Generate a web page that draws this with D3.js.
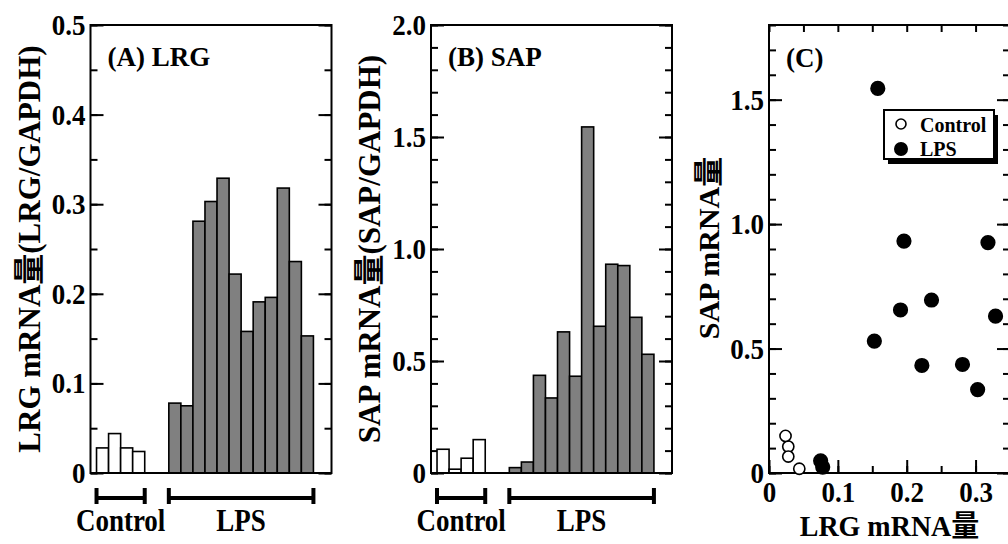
<!DOCTYPE html>
<html>
<head>
<meta charset="utf-8">
<script src="https://cdn.jsdelivr.net/npm/d3@7"></script>
<style>
  body { margin: 0; background: #fff; }
  svg { font-family: "Liberation Serif", "Times New Roman", "Noto Sans CJK JP", serif; font-weight: bold; }
</style>
</head>
<body>
<svg></svg>
<script>
// values (sample order is the same in every panel)
var controlLRG = [0.028, 0.044, 0.028, 0.024];
var lpsLRG = [0.078, 0.075, 0.281, 0.303, 0.329, 0.222, 0.158, 0.191, 0.196, 0.318, 0.236, 0.153];
var controlSAP = [0.106, 0.017, 0.066, 0.149];
var lpsSAP = [0.024, 0.049, 0.436, 0.335, 0.630, 0.432, 1.545, 0.655, 0.932, 0.926, 0.695, 0.530];

var groups = ["Control", "LPS"];
var lrgTicks = [0, 0.1, 0.2, 0.3, 0.4, 0.5];
var sapTicks = [0, 0.5, 1.0, 1.5, 2.0];
var scatterYTicks = [0, 0.5, 1.0, 1.5];
var scatterXTicks = [0, 0.1, 0.2, 0.3];

var width = 1008, height = 544;
var top_ = 25, bottom = 473, panelW = 241;

var svg = d3.select("svg").attr("width", width).attr("height", height);

var fmt = function(d) { return d === 0 ? "0" : d3.format(".1f")(d); };

// text with a slight vertical stretch like the scanned original
function label(x, y, s, size, anchor, rot, sy) {
  return svg.append("text")
    .attr("transform", "translate(" + x + "," + y + ")" + (rot ? " rotate(" + rot + ")" : "") + " scale(1," + (sy || 1) + ")")
    .attr("text-anchor", anchor)
    .style("font-size", size + "px")
    .text(s);
}

function styleAxis(g, size) {
  g.attr("font-family", null).attr("font-size", null);
  g.select(".domain").remove();
  g.selectAll("line").attr("stroke", "#000").attr("stroke-width", 2);
  g.selectAll("text")
    .style("font-size", size + "px")
    .attr("transform", "scale(1,1.1)");
}

function yAxes(left, right, y, major, minor) {
  svg.append("g").attr("transform", "translate(" + left + ",0)")
    .call(d3.axisLeft(y).tickValues(minor).tickSize(-7).tickFormat(""))
    .call(styleAxis, 27);
  svg.append("g").attr("transform", "translate(" + left + ",0)")
    .call(d3.axisLeft(y).tickValues(major).tickSize(-13).tickPadding(5).tickFormat(fmt))
    .call(styleAxis, 27);
  svg.append("g").attr("transform", "translate(" + right + ",0)")
    .call(d3.axisRight(y).tickValues(minor).tickSize(-7).tickFormat(""))
    .call(styleAxis, 27);
  svg.append("g").attr("transform", "translate(" + right + ",0)")
    .call(d3.axisRight(y).tickValues(major).tickSize(-13).tickFormat(""))
    .call(styleAxis, 27);
}

function barPanel(left, yMax, major, minorStep, ctrl, lps, title, ylab) {
  var right = left + panelW;
  // 20 slots: 4 control, 2 empty, 12 LPS, half-slot margins
  var x = d3.scaleLinear().domain([0, 20]).range([left, right]);
  var y = d3.scaleLinear().domain([0, yMax]).range([bottom, top_]);

  var minor = d3.range(0, yMax + 1e-9, minorStep);
  yAxes(left, right, y, major, minor);

  var bars = ctrl.map(function(v, i) { return {v: v, s: 0.5 + i, fill: "#fff"}; })
    .concat(lps.map(function(v, i) { return {v: v, s: 6.5 + i, fill: "#808080"}; }));

  svg.append("g").selectAll("rect").data(bars).enter().append("rect")
    .attr("x", d => x(d.s))
    .attr("width", x(1) - x(0))
    .attr("y", d => y(d.v))
    .attr("height", d => y(0) - y(d.v))
    .attr("fill", d => d.fill)
    .attr("stroke", "#000")
    .attr("stroke-width", 1.6);

  svg.append("rect")
    .attr("x", left).attr("y", top_)
    .attr("width", panelW).attr("height", bottom - top_)
    .attr("fill", "none").attr("stroke", "#000").attr("stroke-width", 2);

  // group brackets
  var spans = [[0.5, 4.5], [6.5, 18.5]];
  var br = svg.append("g").attr("stroke", "#000").attr("stroke-width", 4);
  spans.forEach(function(s, i) {
    br.append("line").attr("x1", x(s[0])).attr("x2", x(s[1])).attr("y1", 498).attr("y2", 498);
    br.append("line").attr("x1", x(s[0])).attr("x2", x(s[0])).attr("y1", 488).attr("y2", 504);
    br.append("line").attr("x1", x(s[1])).attr("x2", x(s[1])).attr("y1", 488).attr("y2", 504);
    label((x(s[0]) + x(s[1])) / 2, 531, groups[i], 27, "middle", 0, 1.2);
  });

  label(left + 17, 66, title, 27, "start", 0, 1.05);
  label(left - 51, 249, ylab, 31, "middle", -90, 1);
}

barPanel(90.5, 0.5, lrgTicks, 0.05, controlLRG, lpsLRG, "(A) LRG", "LRG mRNA量(LRG/GAPDH)");
barPanel(431, 2.0, sapTicks, 0.1, controlSAP, lpsSAP, "(B) SAP", "SAP mRNA量(SAP/GAPDH)");

// (C) scatter of the same samples
var cl = 769, cr = cl + panelW;
var xs = d3.scaleLinear().domain([0, 0.35]).range([cl, cr]);
var ys = d3.scaleLinear().domain([0, 1.8]).range([bottom, top_]);

yAxes(cl, cr, ys, scatterYTicks, d3.range(0, 1.8 + 1e-9, 0.1));

var xMinor = d3.range(0, 0.35 + 1e-9, 0.05);
svg.append("g").attr("transform", "translate(0," + bottom + ")")
  .call(d3.axisBottom(xs).tickValues(xMinor).tickSize(-7).tickFormat(""))
  .call(styleAxis, 27);
svg.append("g").attr("transform", "translate(0," + bottom + ")")
  .call(d3.axisBottom(xs).tickValues(scatterXTicks).tickSize(-13).tickPadding(7).tickFormat(fmt))
  .call(styleAxis, 27);
svg.append("g").attr("transform", "translate(0," + top_ + ")")
  .call(d3.axisTop(xs).tickValues(xMinor).tickSize(-7).tickFormat(""))
  .call(styleAxis, 27);

svg.append("rect")
  .attr("x", cl).attr("y", top_)
  .attr("width", panelW).attr("height", bottom - top_)
  .attr("fill", "none").attr("stroke", "#000").attr("stroke-width", 2);

var pts = controlLRG.map(function(v, i) { return {x: v, y: controlSAP[i], g: 0}; })
  .concat(lpsLRG.map(function(v, i) { return {x: v, y: lpsSAP[i], g: 1}; }));

svg.append("g").selectAll("circle").data(pts).enter().append("circle")
  .attr("cx", d => xs(d.x))
  .attr("cy", d => ys(d.y))
  .attr("r", d => d.g ? 6.8 : 5.6)
  .attr("fill", d => d.g ? "#000" : "#fff")
  .attr("stroke", "#000")
  .attr("stroke-width", 1.6);

label(cl + 17, 67, "(C)", 27, "start", 0, 1.05);
label(719, 248, "SAP mRNA量", 30, "middle", -90, 1);
label((cl + cr) / 2, 536, "LRG mRNA量", 28, "middle", 0, 1.05);

// legend with drop shadow
var lg = svg.append("g").attr("transform", "translate(884,110)");
lg.append("rect").attr("x", 4).attr("y", 5).attr("width", 110).attr("height", 49).attr("fill", "#000");
lg.append("rect").attr("width", 110).attr("height", 49).attr("fill", "#fff").attr("stroke", "#000").attr("stroke-width", 2);
groups.forEach(function(g, i) {
  lg.append("circle").attr("cx", 17).attr("cy", 14 + i * 25).attr("r", i ? 6.2 : 5)
    .attr("fill", i ? "#000" : "#fff").attr("stroke", "#000").attr("stroke-width", 1.6);
  lg.append("text").attr("x", 36).attr("y", 22 + i * 24)
    .style("font-size", "20px").text(g);
});
</script>
</body>
</html>
